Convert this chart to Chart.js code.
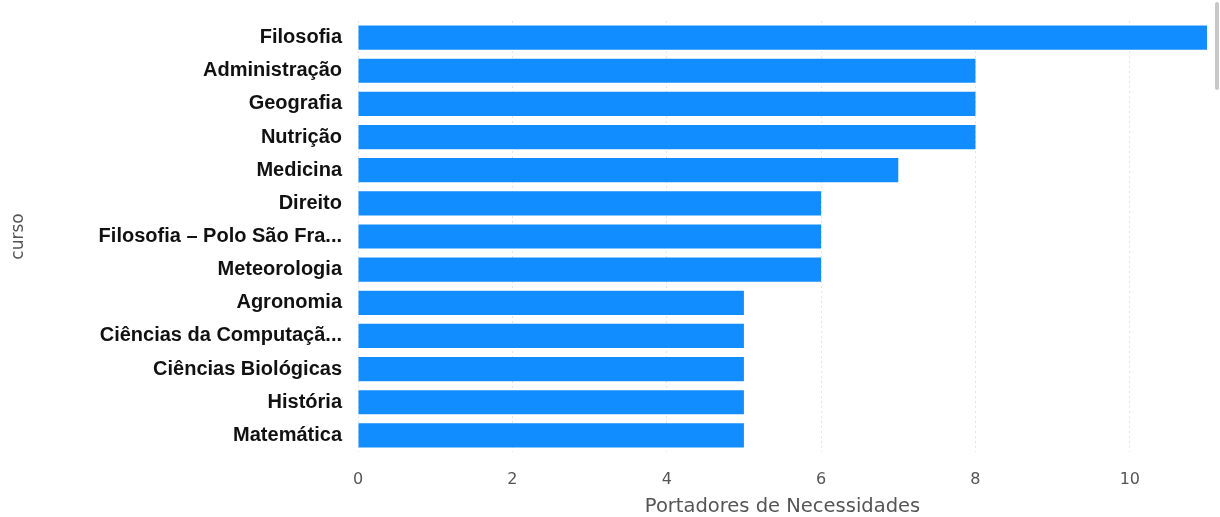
<!DOCTYPE html>
<html>
<head>
<meta charset="utf-8">
<script src="https://cdn.jsdelivr.net/npm/chart.js@4/dist/chart.umd.min.js"></script>
<style>
  html, body { margin: 0; padding: 0; background: #fff; }
  #wrap { position: relative; width: 1220px; height: 517px; }
  #scroll { position: absolute; right: 1px; top: 2px; width: 4px; height: 88px; background: #c8c8c8; border-radius: 2px; }
</style>
</head>
<body>
<div id="wrap">
  <canvas id="cursoChart" width="1220" height="517"></canvas>
  <div id="scroll"></div>
</div>
<script>
// cursos e quantidade de portadores de necessidades
const cursos = [
  'Filosofia',
  'Administração',
  'Geografia',
  'Nutrição',
  'Medicina',
  'Direito',
  'Filosofia – Polo São Fra...',
  'Meteorologia',
  'Agronomia',
  'Ciências da Computaçã...',
  'Ciências Biológicas',
  'História',
  'Matemática'
];
const portadores = [11, 8, 8, 8, 7, 6, 6, 6, 5, 5, 5, 5, 5];
const xTicks = [0, 2, 4, 6, 8, 10];

const ctx = document.getElementById('cursoChart');

new Chart(ctx, {
  type: 'bar',
  data: {
    labels: cursos,
    datasets: [{
      label: 'Portadores de Necessidades',
      data: portadores,
      backgroundColor: '#118DFF',
      borderWidth: 0,
      categoryPercentage: 1,
      barPercentage: 0.73
    }]
  },
  options: {
    indexAxis: 'y',
    responsive: false,
    animation: false,
    layout: { padding: { top: 21, right: 13, bottom: 0, left: 4 } },
    plugins: {
      legend: { display: false },
      tooltip: { enabled: false }
    },
    scales: {
      x: {
        min: 0,
        max: 11,
        afterBuildTicks: (scale) => {
          scale.ticks = xTicks.map(v => ({ value: v }));
        },
        afterFit: (scale) => { scale.height = 65; },
        grid: {
          color: '#e4e4e4',
          drawTicks: false
        },
        border: { display: false, dash: [2, 3] },
        ticks: {
          color: '#555',
          padding: 18,
          font: { family: 'DejaVu Sans', size: 16 }
        },
        title: {
          display: true,
          text: 'Portadores de Necessidades',
          color: '#555',
          padding: { top: 0, bottom: -2 },
          font: { family: 'DejaVu Sans', size: 19.5 }
        }
      },
      y: {
        afterFit: (scale) => {
          scale.width = 354;
          scale.paddingTop = 0;
          scale.paddingBottom = 0;
        },
        grid: { display: false, drawTicks: false },
        border: { display: false },
        ticks: {
          color: '#111',
          padding: 16,
          autoSkip: false,
          font: { family: 'Liberation Sans, Arial', size: 20, weight: 'bold' }
        },
        title: {
          display: true,
          text: 'curso',
          color: '#555',
          padding: { top: 4, bottom: 0 },
          font: { family: 'DejaVu Sans', size: 17 }
        }
      }
    }
  }
});
</script>
</body>
</html>
